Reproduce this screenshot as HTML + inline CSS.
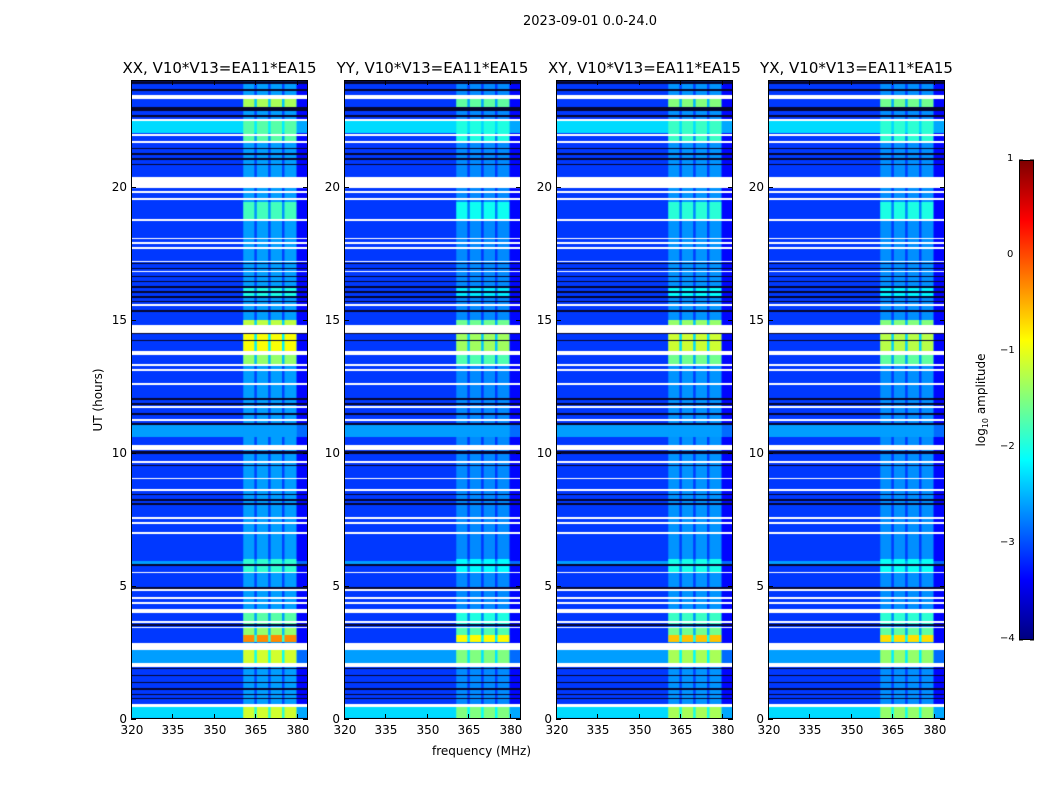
<!DOCTYPE html>
<html><head><meta charset="utf-8">
<style>
body{margin:0;background:#fff;width:1050px;height:800px;position:relative;overflow:hidden;font-family:"DejaVu Sans","Liberation Sans",sans-serif;}
.abs{position:absolute;}
.t{position:absolute;font-size:12px;color:#000;white-space:nowrap;}
.title{position:absolute;font-size:15px;white-space:nowrap;transform:translateX(-50%);}
canvas{position:absolute;}
</style></head>
<body>
<div class="title" style="left:590px;top:14px;font-size:13px;">2023-09-01 0.0-24.0</div>
<div id="root"></div>
<svg class="abs" style="left:0;top:0" width="1050" height="800" id="ov"></svg>
<div class="abs" style="left:1019px;top:160px;width:15px;height:480px;border:1px solid #000;box-sizing:border-box;background:linear-gradient(to top,#000080 0%,#0000ff 12.5%,#00ffff 37.5%,#ffff00 62.5%,#ff0000 87.5%,#800000 100%);"></div>
<div class="abs" style="left:982px;top:400px;transform:translate(-50%,-50%) rotate(-90deg);font-size:12px;white-space:nowrap;">log<sub style="font-size:8px">10</sub> amplitude</div>
<div class="t" style="left:432px;top:744px;">frequency (MHz)</div>
<div class="t" style="left:98px;top:400px;transform:translate(-50%,-50%) rotate(-90deg);">UT (hours)</div>
<script>
// ---- data ----
const panelTitles = ["XX, V10*V13=EA11*EA15","YY, V10*V13=EA11*EA15","XY, V10*V13=EA11*EA15","YX, V10*V13=EA11*EA15"];
const bandScale = [1.0, 0.8, 0.9, 0.85];
const bgLevel = -3.1;
const flaggedHours = [[23.3,23.42],[22.45,22.55],[21.9,21.98],[21.62,21.7],[19.93,20.37],[19.76,19.84],[19.5,19.56],[18.7,18.78],[18.02,18.08],[17.84,17.9],[17.65,17.71],[17.15,17.21],[16.77,16.83],[15.52,15.58],[14.5,14.8],[13.67,13.82],[13.27,13.33],[13.07,13.13],[12.55,12.61],[11.69,11.75],[11.2,11.26],[10.1,10.3],[9.63,9.69],[9.01,9.07],[8.57,8.63],[7.52,7.58],[7.34,7.4],[6.95,7.01],[5.47,5.53],[4.82,4.88],[4.51,4.57],[4.32,4.38],[3.98,4.13],[3.62,3.68],[3.4,3.46],[2.6,2.87],[1.95,2.1],[0.45,0.56]];
const darkHours = [[23.85,23.95],[23.6,23.65],[22.85,23.0],[22.6,22.68],[21.4,21.46],[21.2,21.26],[21.0,21.06],[20.8,20.86],[17.1,17.14],[16.9,16.95],[16.6,16.65],[16.4,16.45],[16.2,16.25],[16.0,16.08],[15.8,15.9],[15.65,15.7],[15.3,15.35],[14.45,14.5],[14.2,14.25],[12.0,12.05],[11.8,11.85],[11.4,11.5],[11.05,11.1],[9.95,10.08],[9.5,9.55],[8.55,8.57],[8.4,8.45],[8.2,8.25],[8.05,8.12],[5.75,5.82],[4.9,4.95],[3.5,3.55],[1.88,1.92],[1.6,1.65],[1.35,1.4],[1.1,1.15],[0.9,0.95],[0.75,0.8]];
const fullRowLevels = [[22.0,22.45,-2.3],[10.6,11.05,-2.6],[5.82,5.95,-2.6],[2.1,2.6,-2.6],[0.05,0.45,-2.3],[14.65,14.8,-2.0]];
const bandLevels = [[0.0,0.45,-1.1],[2.1,2.6,-1.1],[2.9,3.15,-0.3],[3.15,3.4,-1.4],[3.5,3.98,-1.7],[5.5,6.0,-1.9],[13.3,13.67,-1.4],[13.82,14.5,-0.9],[14.8,15.0,-1.2],[18.78,19.4,-1.8],[21.7,22.45,-1.7],[23.0,23.3,-1.3],[15.9,16.2,-2.0]];
const bandDefault = -2.6;
const subBands = [[360.6,364.6],[365.5,369.6],[370.5,374.6],[375.5,379.8]];
const freqMin = 320, freqMax = 384, tMin = 0, tMax = 24;
const xTicks = [320,335,350,365,380];
const yTicks = [0,5,10,15,20];
const cbTicks = [-4,-3,-2,-1,0,1];
const cbMin = -4, cbMax = 1;

// ---- layout ----
const panelX = [131,344,556,768], panelY = 80, panelW = 177, panelH = 639;
const xs = (f,i)=>panelX[i] + (f-freqMin)/(freqMax-freqMin)*panelW;
const ys = t=>panelY + panelH - (t-tMin)/(tMax-tMin)*panelH;

function jet(v){
  let x=(v-cbMin)/(cbMax-cbMin); x=Math.max(0,Math.min(1,x));
  const c=a=>Math.round(255*Math.max(0,Math.min(1,1.5-Math.abs(4*x-a))));
  return `rgb(${c(3)},${c(2)},${c(1)})`;
}
function inAny(list,t){for(const r of list){if(t>=r[0]&&t<r[1])return r;}return null;}

const root=document.getElementById('root');
const ov=document.getElementById('ov');
const NS='http://www.w3.org/2000/svg';
function line(x1,y1,x2,y2){const l=document.createElementNS(NS,'line');l.setAttribute('x1',x1);l.setAttribute('y1',y1);l.setAttribute('x2',x2);l.setAttribute('y2',y2);l.setAttribute('stroke','#000');l.setAttribute('stroke-width','1');


ov.appendChild(l);}

panelTitles.forEach((title,i)=>{
  const cv=document.createElement('canvas');
  cv.width=panelW;cv.height=panelH;
  cv.style.left=panelX[i]+'px';cv.style.top=panelY+'px';
  
  
  root.appendChild(cv);
  const ctx=cv.getContext('2d');
  for(let py=0;py<panelH;py++){
    const t=tMax-(py+0.5)/panelH*(tMax-tMin);
    if(inAny(flaggedHours,t)){ctx.fillStyle='#fff';ctx.fillRect(0,py,panelW,1);continue;}
    if(inAny(darkHours,t)){ctx.fillStyle='#06062e';ctx.fillRect(0,py,panelW,1);continue;}
    const fr=inAny(fullRowLevels,t);
    const base=fr?fr[2]:bgLevel;
    ctx.fillStyle=jet(base);ctx.fillRect(0,py,panelW,1);
    ctx.fillStyle=jet(base-0.25);
    const x380=xs(379.8,i)-panelX[i];ctx.fillRect(x380,py,panelW-x380,1);
    const br=inAny(bandLevels,t);
    let bl=br?br[2]:bandDefault;
    bl=bgLevel+(bl-bgLevel)*bandScale[i];
    const x0=xs(subBands[0][0],i)-panelX[i], x1=xs(subBands[3][1],i)-panelX[i];
    ctx.fillStyle=jet(Math.max(base,(bl+base)/2-0.2));ctx.fillRect(x0,py,x1-x0,1);
    ctx.fillStyle=jet(Math.max(base,bl));
    subBands.forEach(sb=>{const a=xs(sb[0],i)-panelX[i],b=xs(sb[1],i)-panelX[i];ctx.fillRect(a,py,b-a,1);});
  }
  const fr=document.createElement('div');
  fr.className='abs';
  fr.style.cssText=`left:${panelX[i]}px;top:${panelY}px;width:${panelW}px;height:${panelH}px;border:1px solid #000;box-sizing:border-box;`;
  
  
  root.appendChild(fr);
  const tt=document.createElement('div');
  tt.className='title';tt.textContent=title;
  tt.style.left=(panelX[i]+panelW/2)+'px';tt.style.top='59px';
  
  
  root.appendChild(tt);
  xTicks.forEach(f=>{
    const x=Math.round(xs(f,i))+0.5;
    line(x,panelY+panelH,x,panelY+panelH-5);line(x,panelY,x,panelY+5);
    const d=document.createElement('div');d.className='t';d.textContent=f;
    d.style.left=(x-11)+'px';d.style.top='723px';
    
    
    root.appendChild(d);
  });
  yTicks.forEach(v=>{
    const y=Math.round(ys(v))+0.5;
    line(panelX[i],y,panelX[i]+5,y);line(panelX[i]+panelW,y,panelX[i]+panelW-5,y);
    const d=document.createElement('div');d.className='t';d.textContent=v;
    d.style.right=(1050-panelX[i]+4)+'px';d.style.top=(y-8)+'px';
    
    
    root.appendChild(d);
  });
});
cbTicks.forEach(v=>{
  const y=640-(v-cbMin)/(cbMax-cbMin)*480;
  const d=document.createElement('div');d.className='t';d.style.fontSize='10px';
  d.textContent=v<0?'\u2212'+(-v):v;
  d.style.left=(v<0?1000:1007)+'px';d.style.top=(y-7)+'px';
  
  
  root.appendChild(d);
  line(1019,y,1023,y);line(1034,y,1030,y);
});
</script>
</body></html>
